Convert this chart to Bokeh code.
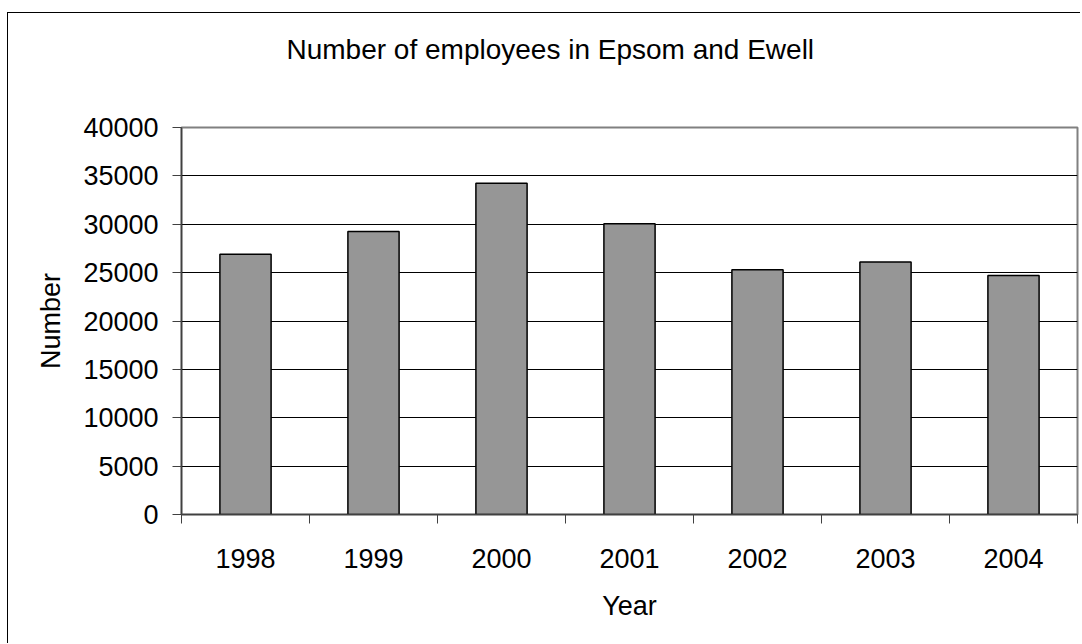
from bokeh.plotting import figure
from bokeh.models import ColumnDataSource, FixedTicker, Range1d, Title
from bokeh.embed import file_html
from bokeh.resources import INLINE

title_text = "Number of employees in Epsom and Ewell"
years = ["1998", "1999", "2000", "2001", "2002", "2003", "2004"]
employees = [26900, 29250, 34250, 30050, 25300, 26100, 24700]
y_ticks = [0, 5000, 10000, 15000, 20000, 25000, 30000, 35000, 40000]

centers = [i + 0.5 for i in range(len(years))]
bounds = [i for i in range(len(years) + 1)]
source = ColumnDataSource(data=dict(x=centers, y=employees, year=years))

FONT = "Liberation Sans"

p = figure(width=1073, height=631, output_backend="svg", toolbar_location=None,
           x_range=Range1d(0, len(years)), y_range=Range1d(0, 40000),
           min_border_left=173, min_border_right=4, min_border_top=114, min_border_bottom=130,
           background_fill_color="white", border_fill_color="white")
p.styles = {"margin-left": "7px", "margin-top": "12px",
            "border-left": "1px solid black", "border-top": "1px solid black"}

p.vbar(x="x", top="y", width=0.4, bottom=0, source=source,
       fill_color="#969696", line_color="black", line_width=1.5)

# real title; a blank spacer title added afterwards sits between it and the frame
p.title = Title(text=title_text, align="left", offset=105, text_font=FONT,
                text_font_size="28px", text_font_style="normal",
                text_color="black", standoff=0)
p.add_layout(Title(text=" ", text_font=FONT, text_font_size="10px", standoff=50), "above")

p.outline_line_color = "#808080"
p.outline_line_width = 2

xa = p.xaxis[0]
xa.ticker = FixedTicker(ticks=centers, minor_ticks=bounds)
xa.major_label_overrides = {c: y for c, y in zip(centers, years)}
xa.major_tick_out = 0
xa.major_tick_in = 0
xa.minor_tick_out = 9
xa.minor_tick_in = 0
xa.minor_tick_line_color = "#404040"
xa.axis_line_color = "#404040"
xa.axis_line_width = 1.5
xa.major_label_text_font = FONT
xa.major_label_text_font_size = "27px"
xa.major_label_text_color = "black"
xa.major_label_standoff = 25
xa.axis_label = "Year"
xa.axis_label_text_font = FONT
xa.axis_label_text_font_size = "27px"
xa.axis_label_text_font_style = "normal"
xa.axis_label_text_color = "black"
xa.axis_label_standoff = 20

ya = p.yaxis[0]
ya.ticker = FixedTicker(ticks=y_ticks, minor_ticks=[])
ya.major_tick_out = 9
ya.major_tick_in = 0
ya.major_tick_line_color = "#404040"
ya.axis_line_color = "#404040"
ya.axis_line_width = 1.5
ya.major_label_text_font = FONT
ya.major_label_text_font_size = "27px"
ya.major_label_text_color = "black"
ya.major_label_standoff = 14
ya.axis_label = "Number"
ya.axis_label_text_font = FONT
ya.axis_label_text_font_size = "27px"
ya.axis_label_text_font_style = "normal"
ya.axis_label_text_color = "black"
ya.axis_label_standoff = 14

p.xgrid.visible = False
p.ygrid[0].ticker = FixedTicker(ticks=y_ticks)
p.ygrid.grid_line_color = "black"
p.ygrid.grid_line_width = 1

open("out.html", "w").write(file_html(p, INLINE))
